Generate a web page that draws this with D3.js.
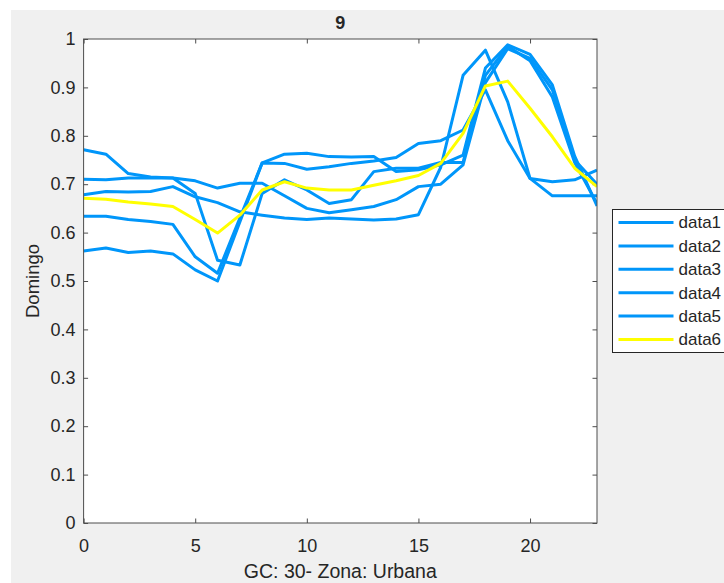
<!DOCTYPE html>
<html>
<head>
<meta charset="utf-8">
<script src="https://cdn.jsdelivr.net/npm/d3@7"></script>
<style>
  html, body { margin: 0; padding: 0; background: #ffffff; }
  svg { display: block; }
  text { font-family: "Liberation Sans", Arial, Helvetica, sans-serif; fill: #262626; }
</style>
</head>
<body>
<script>
// Hourly profile (hour of day 0..23) for six series
const hours = d3.range(0, 24);

const data1 = [0.771, 0.762, 0.722, 0.715, 0.713, 0.681, 0.543, 0.533, 0.681, 0.709, 0.688, 0.660,
               0.668, 0.726, 0.733, 0.733, 0.745, 0.745, 0.925, 0.985, 0.955, 0.880, 0.745, 0.660];
const data2 = [0.710, 0.709, 0.713, 0.713, 0.713, 0.707, 0.692, 0.702, 0.702, 0.676, 0.650, 0.641,
               0.647, 0.654, 0.668, 0.695, 0.700, 0.740, 0.910, 0.980, 0.960, 0.895, 0.750, 0.700];
const data3 = [0.678, 0.685, 0.684, 0.685, 0.695, 0.674, 0.662, 0.643, 0.636, 0.630, 0.627, 0.630,
               0.628, 0.626, 0.628, 0.637, 0.735, 0.925, 0.977, 0.870, 0.712, 0.705, 0.709, 0.729];
const data4 = [0.634, 0.634, 0.627, 0.623, 0.617, 0.550, 0.516, 0.630, 0.744, 0.762, 0.764, 0.757,
               0.756, 0.757, 0.726, 0.730, 0.740, 0.760, 0.940, 0.988, 0.968, 0.905, 0.758, 0.655];
const data5 = [0.562, 0.568, 0.559, 0.562, 0.556, 0.523, 0.500, 0.622, 0.744, 0.743, 0.731, 0.736,
               0.743, 0.748, 0.755, 0.784, 0.790, 0.812, 0.895, 0.790, 0.712, 0.676, 0.676, 0.676];
const data6 = [0.671, 0.669, 0.663, 0.659, 0.654, 0.627, 0.599, 0.636, 0.688, 0.705, 0.692, 0.688,
               0.688, 0.698, 0.707, 0.718, 0.743, 0.805, 0.903, 0.913, 0.857, 0.798, 0.733, 0.695];

const seriesNames = ["data1", "data2", "data3", "data4", "data5", "data6"];
const seriesValues = [data1, data2, data3, data4, data5, data6];
const seriesColors = ["#0096fa", "#0096fa", "#0096fa", "#0096fa", "#0096fa", "#ffff00"];

const xTicks = [0, 5, 10, 15, 20];
const yTicks = [0, 0.1, 0.2, 0.3, 0.4, 0.5, 0.6, 0.7, 0.8, 0.9, 1];

const titleText = "9";
const xLabelText = "GC: 30- Zona: Urbana";
const yLabelText = "Domingo";

// ---- figure ----
const W = 724, H = 583;
const ax = { left: 83.6, right: 597, top: 39, bottom: 523 };
const fontStack = "'Liberation Sans', Arial, Helvetica, sans-serif";

const svg = d3.select("body").append("svg")
  .attr("width", W).attr("height", H);

// figure window background
svg.append("rect").attr("x", 11).attr("y", 10)
  .attr("width", W - 11).attr("height", H - 10).attr("fill", "#f0f0f0");

const x = d3.scaleLinear().domain([0, 23]).range([ax.left, ax.right]);
const y = d3.scaleLinear().domain([0, 1]).range([ax.bottom, ax.top]);

// plot area
svg.append("rect")
  .attr("x", ax.left).attr("y", ax.top)
  .attr("width", ax.right - ax.left).attr("height", ax.bottom - ax.top)
  .attr("fill", "#ffffff");

// axes with inward ticks on all four sides
const tickLen = 4.5;
const axisColor = "#4d4d4d";
function styleAxis(g) {
  g.selectAll(".domain").attr("stroke", "none");
  g.selectAll(".tick line").attr("stroke", axisColor).attr("stroke-width", 1);
}

const gx = svg.append("g").attr("transform", `translate(0,${ax.bottom})`)
  .call(d3.axisBottom(x).tickValues(xTicks).tickSize(-tickLen).tickPadding(16).tickFormat(d3.format("d")));
styleAxis(gx);
gx.selectAll(".tick text").attr("font-size", 18).attr("fill", "#262626")
  .attr("font-family", fontStack);

const gxTop = svg.append("g").attr("transform", `translate(0,${ax.top})`)
  .call(d3.axisTop(x).tickValues(xTicks).tickSize(-tickLen).tickFormat(""));
styleAxis(gxTop);

const gy = svg.append("g").attr("transform", `translate(${ax.left},0)`)
  .call(d3.axisLeft(y).tickValues(yTicks).tickSize(-tickLen).tickPadding(8).tickFormat(d => d3.format("~g")(d)));
styleAxis(gy);
gy.selectAll(".tick text").attr("font-size", 18).attr("fill", "#262626")
  .attr("font-family", fontStack);

const gyRight = svg.append("g").attr("transform", `translate(${ax.right},0)`)
  .call(d3.axisRight(y).tickValues(yTicks).tickSize(-tickLen).tickFormat(""));
styleAxis(gyRight);

// series lines
const line = d3.line()
  .x((d, i) => x(hours[i]))
  .y(d => y(d));

svg.append("defs").append("clipPath").attr("id", "plotClip")
  .append("rect")
  .attr("x", ax.left).attr("y", ax.top)
  .attr("width", ax.right - ax.left).attr("height", ax.bottom - ax.top);

const lines = svg.append("g").attr("clip-path", "url(#plotClip)");
seriesValues.forEach((vals, k) => {
  lines.append("path")
    .datum(vals)
    .attr("d", line)
    .attr("fill", "none")
    .attr("stroke", seriesColors[k])
    .attr("stroke-width", 3)
    .attr("stroke-linejoin", "round")
    .attr("stroke-linecap", "butt");
});

// box outline
svg.append("rect")
  .attr("x", ax.left).attr("y", ax.top)
  .attr("width", ax.right - ax.left).attr("height", ax.bottom - ax.top)
  .attr("fill", "none").attr("stroke", axisColor).attr("stroke-width", 1);

// title and axis labels
svg.append("text")
  .attr("x", (ax.left + ax.right) / 2).attr("y", 29)
  .attr("text-anchor", "middle")
  .attr("font-size", 18).attr("font-weight", "bold").attr("fill", "#000")
  .text(titleText);

svg.append("text")
  .attr("x", (ax.left + ax.right) / 2).attr("y", 578)
  .attr("text-anchor", "middle")
  .attr("font-size", 19.5)
  .text(xLabelText);

svg.append("text")
  .attr("transform", `translate(39,${(ax.top + ax.bottom) / 2}) rotate(-90)`)
  .attr("text-anchor", "middle")
  .attr("font-size", 18.5)
  .text(yLabelText);

// legend
const lg = { left: 612.5, top: 209.5, width: 120, height: 143, rowH: 23.4 };
const legend = svg.append("g");
legend.append("rect")
  .attr("x", lg.left).attr("y", lg.top)
  .attr("width", lg.width).attr("height", lg.height)
  .attr("fill", "#ffffff").attr("stroke", "#262626").attr("stroke-width", 1);

seriesNames.forEach((name, k) => {
  const cy = lg.top + 13 + k * lg.rowH;
  legend.append("line")
    .attr("x1", lg.left + 6).attr("x2", lg.left + 61)
    .attr("y1", cy).attr("y2", cy)
    .attr("stroke", seriesColors[k]).attr("stroke-width", 3);
  legend.append("text")
    .attr("x", lg.left + 66).attr("y", cy)
    .attr("dy", "0.35em")
    .attr("font-size", 17)
    .text(name);
});
</script>
</body>
</html>
